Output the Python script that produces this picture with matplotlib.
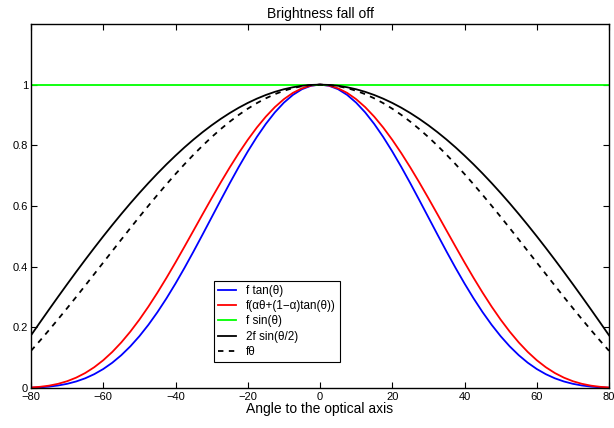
import matplotlib
matplotlib.use("Agg")
import matplotlib.pyplot as plt

# -- Donnees (demi-courbe, 0 a 80 degres, pas de 2.5) --------------------------
half_angles = [0, 2.5, 5, 7.5, 10, 12.5, 15, 17.5, 20, 22.5, 25, 27.5, 30, 32.5, 35, 37.5,
               40, 42.5, 45, 47.5, 50, 52.5, 55, 57.5, 60, 62.5, 65, 67.5, 70, 72.5, 75, 77.5, 80]

half_tan   = [1.0, 0.9962, 0.9849, 0.9662, 0.9406, 0.9085, 0.8705, 0.8273, 0.7797,
              0.7286, 0.6747, 0.6190, 0.5625, 0.5060, 0.4503, 0.3962, 0.3444, 0.2955,
              0.25, 0.2083, 0.1707, 0.1373, 0.1082, 0.0833, 0.0625, 0.0455, 0.0319,
              0.0215, 0.0137, 0.0082, 0.0045, 0.0022, 0.0009]
half_mix   = [1.0, 0.9970, 0.9878, 0.9729, 0.9521, 0.9259, 0.8945, 0.8585, 0.8181,
              0.7741, 0.7269, 0.6772, 0.6256, 0.5728, 0.5194, 0.4663, 0.4139, 0.3631,
              0.3144, 0.2683, 0.2253, 0.1859, 0.1503, 0.1188, 0.0915, 0.0684, 0.0493,
              0.0341, 0.0223, 0.0137, 0.0077, 0.0039, 0.0017]
half_sin   = [1.0] * 33
half_sin2  = [1.0, 0.9990, 0.9962, 0.9914, 0.9848, 0.9763, 0.9659, 0.9537, 0.9397,
              0.9239, 0.9063, 0.8870, 0.8660, 0.8434, 0.8192, 0.7934, 0.7660, 0.7373,
              0.7071, 0.6756, 0.6428, 0.6088, 0.5736, 0.5373, 0.5, 0.4617, 0.4226,
              0.3827, 0.3420, 0.3007, 0.2588, 0.2164, 0.1736]
half_theta = [1.0, 0.9987, 0.9949, 0.9886, 0.9798, 0.9686, 0.9549, 0.9390, 0.9207,
              0.9003, 0.8778, 0.8533, 0.8270, 0.7989, 0.7692, 0.7379, 0.7053, 0.6715,
              0.6366, 0.6008, 0.5643, 0.5271, 0.4895, 0.4515, 0.4135, 0.3755, 0.3376,
              0.3001, 0.2631, 0.2267, 0.1910, 0.1562, 0.1225]

# courbes symetriques : on recolle les deux moities
def sym(half):
    return half[::-1] + half[1:]

angles  = [-a for a in half_angles[::-1]] + half_angles[1:]
f_tan   = sym(half_tan)
f_mix   = sym(half_mix)
f_sin   = sym(half_sin)
f_sin2  = sym(half_sin2)
f_theta = sym(half_theta)

labels = ["f tan(\u03b8)", "f(\u03b1\u03b8+(1\u2212\u03b1)tan(\u03b8))", "f sin(\u03b8)",
          "2f sin(\u03b8/2)", "f\u03b8"]

plt.rcParams["font.family"] = ["Liberation Sans", "DejaVu Sans"]

fig = plt.figure(figsize=(6.14, 4.28), dpi=100)
ax = fig.add_axes([0.0505, 0.0935, 0.9414, 0.8505])

ax.plot(angles, f_tan,   color="#0000ff", lw=1.3, label=labels[0])
ax.plot(angles, f_mix,   color="#ff0000", lw=1.3, label=labels[1])
ax.plot(angles, f_sin,   color="#00ff00", lw=1.3, label=labels[2])
ax.plot(angles, f_sin2,  color="black",   lw=1.3, label=labels[3])
ax.plot(angles, f_theta, color="black",   lw=1.3, ls=(0, (3, 3)), label=labels[4])

ax.set_xlim(-80, 80)
ax.set_ylim(0, 1.2)
ax.set_xticks(range(-80, 81, 20))
ax.set_yticks([0, 0.2, 0.4, 0.6, 0.8, 1])
ax.set_yticklabels(["0", "0.2", "0.4", "0.6", "0.8", "1"])
ax.set_xticklabels(["\u221280", "\u221260", "\u221240", "\u221220", "0", "20", "40", "60", "80"])
ax.tick_params(direction="in", length=4, width=0.8, labelsize=8, top=True, right=True, pad=2)
ax.tick_params(axis="x", pad=3)
for s in ax.spines.values():
    s.set_linewidth(1.0)

ax.set_title("Brightness fall off", fontsize=10, pad=4)
ax.set_xlabel("Angle to the optical axis", fontsize=10, labelpad=0)

leg = ax.legend(loc="lower left", bbox_to_anchor=(0.3166, 0.0714), fontsize=8.4,
                fancybox=False, framealpha=1, edgecolor="black", borderpad=0.35,
                handlelength=1.5, labelspacing=0.28, handletextpad=0.9, borderaxespad=0)
leg.get_frame().set_linewidth(0.8)

plt.savefig("out.png", dpi=100)
plt.close()
